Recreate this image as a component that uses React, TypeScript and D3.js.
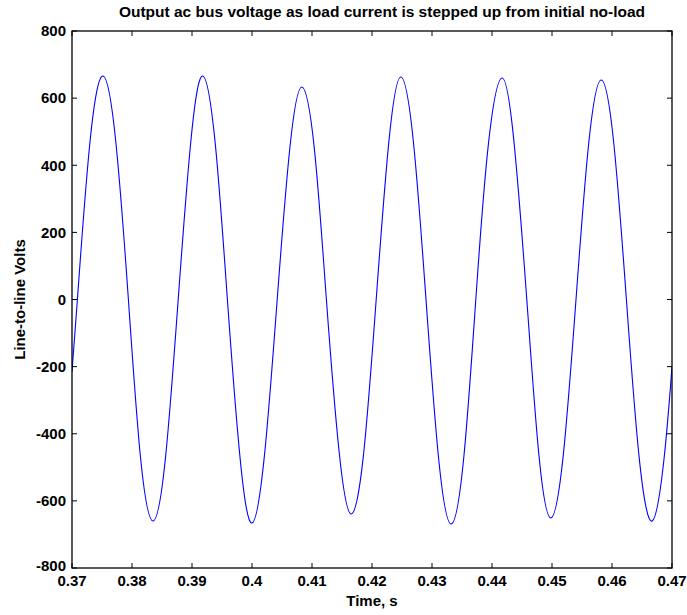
import React, { useEffect } from 'react';
import * as d3 from 'd3';

const times = [
  0.37, 0.3709, 0.373, 0.3752, 0.3773, 0.3794, 0.3814, 0.3835, 0.3856, 0.3877,
  0.3898, 0.3918, 0.3939, 0.3959, 0.398, 0.4, 0.4021, 0.4042, 0.4063, 0.4083,
  0.4104, 0.4124, 0.4145, 0.4165, 0.4186, 0.4207, 0.4228, 0.4248, 0.4269, 0.429,
  0.4311, 0.4332, 0.4353, 0.4373, 0.4394, 0.4417, 0.4437, 0.4458, 0.4478, 0.4498,
  0.4519, 0.454, 0.4561, 0.4582, 0.4603, 0.4624, 0.4645, 0.4667, 0.4687, 0.47,
];
const volts = [
  -215, 0, 470, 666, 470, 0, -467, -660, -468, 0,
  470, 666, 460, 0, -470, -666, -460, 0, 450, 633,
  448, 0, -450, -639, -460, 0, 468, 663, 470, 0,
  -473, -669, -470, 0, 463, 660, 463, 0, -460, -651,
  -460, 0, 462, 654, 465, 0, -466, -660, -470, -200,
];

const xTicks = [0.37, 0.38, 0.39, 0.4, 0.41, 0.42, 0.43, 0.44, 0.45, 0.46, 0.47];
const yTicks = [-800, -600, -400, -200, 0, 200, 400, 600, 800];

const titleText = 'Output ac bus voltage as load current is stepped up from initial no-load';
const xLabel = 'Time, s';
const yLabel = 'Line-to-line Volts';

const W = 687;
const H = 615;
const margin = { left: 72, right: 15, top: 31, bottom: 47 };
const font = '"Liberation Sans", Arial, sans-serif';

export default function App() {
  useEffect(() => {
    document.body.style.margin = '0';
  }, []);

  const x = d3.scaleLinear().domain([0.37, 0.47]).range([margin.left, W - margin.right]);
  const y = d3.scaleLinear().domain([-800, 800]).range([H - margin.bottom, margin.top]);

  const pts = times.map((t, i) => [t, volts[i]] as [number, number]);
  const line = d3.line<[number, number]>()
    .x(d => x(d[0]))
    .y(d => y(d[1]))
    .curve(d3.curveNatural);

  const x0 = x(0.37), x1 = x(0.47), y0 = y(-800), y1 = y(800);
  const tickLen = 5;

  return (
    <svg width={W} height={H} style={{ display: 'block', background: '#fff' }} fontFamily={font} fontWeight="bold">
      <text x={(x0 + x1) / 2 + 10} y={17} textAnchor="middle" fontSize={15.5}>{titleText}</text>

      <defs>
        <clipPath id="plot">
          <rect x={x0} y={y1} width={x1 - x0} height={y0 - y1} />
        </clipPath>
      </defs>

      <path d={line(pts) || ''} fill="none" stroke="#0000ff" strokeWidth={1.1} clipPath="url(#plot)" />

      <rect x={x0} y={y1} width={x1 - x0} height={y0 - y1} fill="none" stroke="#000" strokeWidth={1.3} />

      {xTicks.map(t => (
        <g key={'x' + t}>
          <line x1={x(t)} x2={x(t)} y1={y0} y2={y0 - tickLen} stroke="#000" />
          <line x1={x(t)} x2={x(t)} y1={y1} y2={y1 + tickLen} stroke="#000" />
          <text x={x(t)} y={y0 + 18} textAnchor="middle" fontSize={15}>{String(t)}</text>
        </g>
      ))}

      {yTicks.map(v => (
        <g key={'y' + v}>
          <line x1={x0} x2={x0 + tickLen} y1={y(v)} y2={y(v)} stroke="#000" />
          <line x1={x1} x2={x1 - tickLen} y1={y(v)} y2={y(v)} stroke="#000" />
          <text x={x0 - 6} y={y(v) + (v === -800 ? -2 : 0)} dy="0.35em" textAnchor="end" fontSize={15}>{String(v)}</text>
        </g>
      ))}

      <text x={(x0 + x1) / 2} y={H - 9} textAnchor="middle" fontSize={15}>{xLabel}</text>
      <text transform={`translate(25,${(y0 + y1) / 2}) rotate(-90)`} textAnchor="middle" fontSize={15}>{yLabel}</text>
    </svg>
  );
}
